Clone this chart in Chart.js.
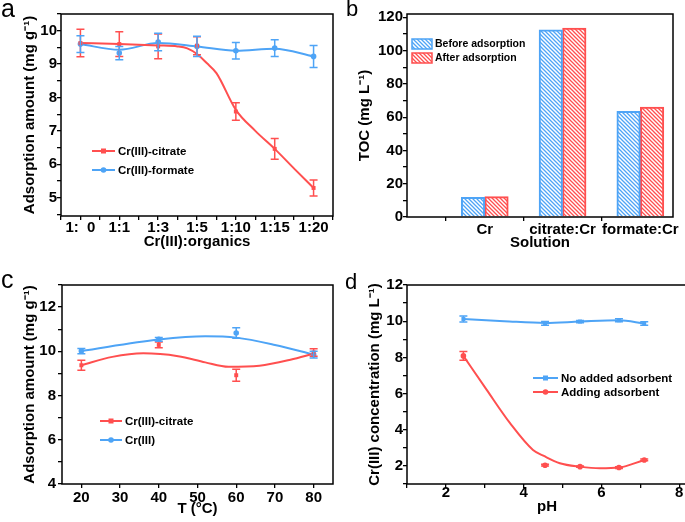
<!DOCTYPE html>
<html>
<head>
<meta charset="utf-8">
<script src="https://cdn.jsdelivr.net/npm/chart.js@4.4.1/dist/chart.umd.min.js"></script>
<style>
  html, body { margin: 0; padding: 0; background: #fff; overflow: hidden; }
  #wrap { position: relative; width: 685px; height: 522px; overflow: hidden; }
  .panel { position: absolute; }
  .tag { position: absolute; font-family: "Liberation Sans", Arial, sans-serif; color: #000; }
</style>
</head>
<body>
<div id="wrap">
  <div class="panel" style="left:0;top:0;width:342px;height:260px"><canvas id="chart-a"></canvas></div>
  <div class="panel" style="left:342px;top:0;width:343px;height:260px"><canvas id="chart-b"></canvas></div>
  <div class="panel" style="left:0;top:260px;width:342px;height:262px"><canvas id="chart-c"></canvas></div>
  <div class="panel" style="left:342px;top:260px;width:350px;height:262px"><canvas id="chart-d"></canvas></div>
  <div class="tag" style="left:1px;top:-4px;font-size:25px;line-height:25px">a</div>
  <div class="tag" style="left:346px;top:-2px;font-size:22px;line-height:22px">b</div>
  <div class="tag" style="left:1px;top:267px;font-size:25px;line-height:25px">c</div>
  <div class="tag" style="left:345px;top:271px;font-size:22px;line-height:22px">d</div>
</div>
<script>
// ---- data ----

// (a) adsorption vs Cr(III):organics ratio
const ratioLabels = ['1:  0', '1:1', '1:3', '1:5', '1:10', '1:15', '1:20'];
const ratioPos = [0, 1, 2, 3, 4, 5, 6];
const citrateA = [9.63, 9.6, 9.53, 9.55, 7.58, 6.46, 5.29];
const citrateErrA = [0.41, 0.37, 0.37, 0.27, 0.26, 0.31, 0.24];
const formateA = [9.6, 9.33, 9.66, 9.53, 9.4, 9.48, 9.23];
const formateErrA = [0.25, 0.2, 0.26, 0.3, 0.25, 0.25, 0.33];
// fitted curves as drawn
const citrateFitPosA = [0, 1, 2, 2.5, 2.75, 3, 3.25, 3.5, 4, 4.5, 5, 5.5, 6];
const citrateFitA = [9.63, 9.6, 9.56, 9.53, 9.47, 9.3, 9.03, 8.73, 7.63, 7.0, 6.46, 5.87, 5.29];
const formateFitPosA = [0, 1, 2, 3, 4, 5, 6];
const formateFitA = [9.6, 9.43, 9.63, 9.53, 9.4, 9.46, 9.23];
const yTicksA = [5, 6, 7, 8, 9, 10];

// (b) TOC
const solutions = ['Cr', 'citrate:Cr', 'formate:Cr'];
const solutionPos = [1, 2, 3];
const tocBefore = [11.8, 112.5, 63.5];
const tocAfter = [12.2, 113.5, 66];
const yTicksB = [0, 20, 40, 60, 80, 100, 120];

// (c) adsorption vs temperature
const temps = [20, 40, 60, 80];
const citrateC = [9.37, 10.29, 8.92, 9.95];
const citrateErrC = [0.23, 0.13, 0.27, 0.17];
const cr3C = [10.01, 10.54, 10.83, 9.85];
const cr3ErrC = [0.12, 0.08, 0.24, 0.15];
const citrateFitTC = [20, 28, 36, 45, 52, 58, 66, 74, 80];
const citrateFitC = [9.37, 9.75, 9.91, 9.78, 9.5, 9.3, 9.35, 9.62, 9.9];
const cr3FitTC = [20, 40, 52, 60, 70, 80];
const cr3FitC = [10.01, 10.53, 10.68, 10.62, 10.29, 9.85];
const xTicksC = [20, 30, 40, 50, 60, 70, 80];
const yTicksC = [4, 6, 8, 10, 12];

// (d) Cr(III) concentration vs pH
const phD = [2.45, 4.55, 5.45, 6.45, 7.1];
const noAdsD = [10.12, 9.88, 9.98, 10.05, 9.87];
const noAdsErrD = [0.17, 0.1, 0.06, 0.08, 0.1];
const addAdsD = [8.08, 2.04, 1.96, 1.91, 2.33];
const addAdsErrD = [0.24, 0.05, 0.04, 0.05, 0.05];
const noFitPhD = [2.45, 3.5, 4.55, 5.45, 6.45, 7.1];
const noFitD = [10.12, 10.0, 9.9, 9.98, 10.05, 9.87];
const addFitPhD = [2.45, 3.05, 3.65, 4.24, 4.52, 4.93, 5.44, 5.96, 6.45, 7.1];
const addFitD = [8.08, 6.2, 4.36, 2.88, 2.55, 2.15, 1.96, 1.87, 1.91, 2.33];
const xTicksD = [2, 4, 6, 8];
const yTicksD = [2, 4, 6, 8, 10, 12];

// ---- styling ----
const RED = '#ff4f4f';
const BLUE = '#4ea4f6';
const FONT = '"Liberation Sans", Arial, sans-serif';

Chart.defaults.font.family = FONT;
Chart.defaults.font.size = 15;
Chart.defaults.font.weight = 'bold';
Chart.defaults.color = '#000';
Chart.defaults.animation = false;
Chart.defaults.plugins.legend.display = false;
Chart.defaults.plugins.tooltip.enabled = false;

const zip = (xs, ys) => xs.map((x, i) => ({ x, y: ys[i] }));

// majors plus half-step minors, inside [min, max]
function tickList(major, min, max) {
  const step = major[1] - major[0];
  const out = [];
  for (let v = major[0] - step; v <= major[major.length - 1] + step + 1e-9; v += step / 2) {
    if (v >= min - 1e-9 && v <= max + 1e-9) out.push(+v.toFixed(4));
  }
  return out;
}

function axis(opts) {
  const { pos, min, max, ticks, labelOf, title, size, pad } = opts;
  const horiz = pos === 'bottom';
  return {
    type: 'linear', position: pos, min, max, offset: false,
    afterBuildTicks: s => { s.ticks = ticks.map(v => ({ value: v })); },
    afterFit: s => { if (horiz) s.height = size; else s.width = size; },
    ticks: {
      autoSkip: false, maxRotation: 0, minRotation: 0, padding: pad,
      font: { size: 15, weight: 'bold' }, color: '#000',
      callback: v => labelOf(v)
    },
    grid: {
      drawOnChartArea: false, drawTicks: true, tickLength: 4, lineWidth: 1.3,
      color: '#000', tickColor: opts.tickColor || '#000', offset: false
    },
    border: { display: false },
    title: { display: true, text: title, font: { size: 15, weight: 'bold' }, color: '#000', padding: 0 }
  };
}

const numLabel = majors => v => majors.some(m => Math.abs(m - v) < 1e-6) ? String(v) : '';

// ---- plugins ----
const errorBars = {
  id: 'errorBars',
  afterDatasetsDraw(chart) {
    const ctx = chart.ctx;
    chart.data.datasets.forEach((ds, i) => {
      if (!ds.errors) return;
      const meta = chart.getDatasetMeta(i);
      const xs = chart.scales[meta.xAxisID], ys = chart.scales[meta.yAxisID];
      ctx.save();
      ctx.strokeStyle = ds.borderColor;
      ctx.lineWidth = 1.5;
      ds.data.forEach((p, j) => {
        const e = ds.errors[j];
        const x = xs.getPixelForValue(p.x);
        const y0 = ys.getPixelForValue(p.y - e), y1 = ys.getPixelForValue(p.y + e);
        ctx.beginPath();
        ctx.moveTo(x, y0); ctx.lineTo(x, y1);
        ctx.moveTo(x - 4, y0); ctx.lineTo(x + 4, y0);
        ctx.moveTo(x - 4, y1); ctx.lineTo(x + 4, y1);
        ctx.stroke();
      });
      ctx.restore();
    });
  }
};

const frame = {
  id: 'frame',
  afterDatasetsDraw(chart) {
    const { ctx, chartArea: a } = chart;
    ctx.save();
    ctx.strokeStyle = '#000';
    ctx.lineWidth = 1.5;
    ctx.strokeRect(a.left, a.top, a.right - a.left, a.bottom - a.top);
    ctx.restore();
  }
};

const keyLegend = {
  id: 'keyLegend',
  afterDraw(chart, args, opts) {
    if (!opts.items) return;
    const ctx = chart.ctx;
    ctx.save();
    ctx.font = `bold ${opts.size}px ${FONT}`;
    ctx.textBaseline = 'middle';
    opts.items.forEach((idx, k) => {
      const ds = chart.data.datasets[idx];
      const y = opts.y + k * opts.gap;
      const x = opts.x, w = opts.w;
      if (opts.box) {
        ctx.fillStyle = ds.backgroundColor;
        ctx.fillRect(x, y - 5, w, 10);
        ctx.strokeStyle = ds.borderColor;
        ctx.lineWidth = 1.5;
        ctx.strokeRect(x, y - 5, w, 10);
      } else {
        ctx.strokeStyle = ds.borderColor;
        ctx.lineWidth = 2;
        ctx.beginPath(); ctx.moveTo(x, y); ctx.lineTo(x + w, y); ctx.stroke();
        ctx.fillStyle = ds.borderColor;
        if (ds.pointStyle === 'rect') ctx.fillRect(x + w / 2 - 2.5, y - 2.5, 5, 5);
        else { ctx.beginPath(); ctx.arc(x + w / 2, y, 2.8, 0, Math.PI * 2); ctx.fill(); }
      }
      ctx.fillStyle = '#000';
      ctx.fillText(ds.label, x + w + 3, y + 0.5);
    });
    ctx.restore();
  }
};

Chart.register(errorBars, frame, keyLegend);

function points(label, xs, ys, errs, color, style) {
  return {
    label, data: zip(xs, ys), errors: errs, showLine: false,
    borderColor: color, backgroundColor: color,
    pointStyle: style, pointRadius: 2.8, pointBorderWidth: 0
  };
}
function fit(xs, ys, color) {
  return {
    label: '', data: zip(xs, ys), showLine: true, pointRadius: 0,
    borderColor: color, borderWidth: 2, cubicInterpolationMode: 'monotone', fill: false
  };
}

function hatch(color) {
  const c = document.createElement('canvas');
  c.width = 4; c.height = 4;
  const g = c.getContext('2d');
  g.fillStyle = '#fff';
  g.fillRect(0, 0, 4, 4);
  g.strokeStyle = color;
  g.lineWidth = 1.3;
  g.beginPath();
  g.moveTo(-1, -1); g.lineTo(5, 5);
  g.moveTo(-1, 3); g.lineTo(1, 5);
  g.moveTo(3, -1); g.lineTo(5, 1);
  g.stroke();
  return g.createPattern(c, 'repeat');
}

// ---- (a) ----
new Chart(document.getElementById('chart-a'), {
  type: 'scatter',
  data: {
    datasets: [
      points('Cr(III)-citrate', ratioPos, citrateA, citrateErrA, RED, 'rect'),
      points('Cr(III)-formate', ratioPos, formateA, formateErrA, BLUE, 'circle'),
      fit(citrateFitPosA, citrateFitA, RED),
      fit(formateFitPosA, formateFitA, BLUE)
    ]
  },
  options: {
    responsive: true, maintainAspectRatio: false,
    layout: { padding: { left: 21, top: 14, right: 9, bottom: 9 } },
    scales: {
      x: axis({ pos: 'bottom', min: -0.5, max: 6.5, ticks: tickList(ratioPos, -0.5, 6.5),
        labelOf: v => Number.isInteger(v) ? ratioLabels[v] : '', title: 'Cr(III):organics', size: 35, pad: -1 }),
      y: axis({ pos: 'left', min: 4.45, max: 10.5, ticks: tickList(yTicksA, 4.45, 10.5),
        labelOf: numLabel(yTicksA), title: 'Adsorption amount (mg g\u207B\u00B9)', size: 40, pad: 0 })
    },
    plugins: { keyLegend: { items: [0, 1], x: 92, y: 151, gap: 19, w: 23, size: 11.5 } }
  }
});

// ---- (b) ----
new Chart(document.getElementById('chart-b'), {
  type: 'bar',
  data: {
    datasets: [
      { label: 'Before adsorption', data: zip(solutionPos, tocBefore),
        backgroundColor: hatch(BLUE), borderColor: BLUE, borderWidth: 2, barThickness: 23.5 },
      { label: 'After adsorption', data: zip(solutionPos, tocAfter),
        backgroundColor: hatch(RED), borderColor: RED, borderWidth: 2, barThickness: 23.5 }
    ]
  },
  options: {
    responsive: true, maintainAspectRatio: false,
    layout: { padding: { left: 14, top: 14, right: 12, bottom: 8 } },
    scales: {
      x: axis({ pos: 'bottom', min: 0, max: 3.42, ticks: [0.5, 1, 1.5, 2, 2.5, 3],
        labelOf: v => Number.isInteger(v) ? solutions[v - 1] : '', title: 'Solution', size: 35, pad: 0,
        tickColor: c => (c.tick && Number.isInteger(c.tick.value)) ? 'rgba(0,0,0,0)' : '#000' }),
      y: axis({ pos: 'left', min: 0, max: 122, ticks: tickList(yTicksB, 0, 122),
        labelOf: numLabel(yTicksB), title: 'TOC (mg L\u207B\u00B9)', size: 51, pad: 0 })
    },
    plugins: { keyLegend: { items: [0, 1], x: 70, y: 44, gap: 14, w: 20, size: 10.5, box: true } }
  }
});

// ---- (c) ----
new Chart(document.getElementById('chart-c'), {
  type: 'scatter',
  data: {
    datasets: [
      points('Cr(III)-citrate', temps, citrateC, citrateErrC, RED, 'rect'),
      points('Cr(III)', temps, cr3C, cr3ErrC, BLUE, 'circle'),
      fit(citrateFitTC, citrateFitC, RED),
      fit(cr3FitTC, cr3FitC, BLUE)
    ]
  },
  options: {
    responsive: true, maintainAspectRatio: false,
    layout: { padding: { left: 21, top: 25, right: 9, bottom: 4 } },
    scales: {
      x: axis({ pos: 'bottom', min: 15, max: 85, ticks: xTicksC,
        labelOf: numLabel(xTicksC), title: 'T (\u00B0C)', size: 34, pad: 1 }),
      y: axis({ pos: 'left', min: 4, max: 13, ticks: tickList(yTicksC, 4, 13),
        labelOf: numLabel(yTicksC), title: 'Adsorption amount (mg g\u207B\u00B9)', size: 41, pad: 2 })
    },
    plugins: { keyLegend: { items: [0, 1], x: 100, y: 161, gap: 19, w: 22, size: 11.5 } }
  }
});

// ---- (d) ----
new Chart(document.getElementById('chart-d'), {
  type: 'scatter',
  data: {
    datasets: [
      points('No added adsorbent', phD, noAdsD, noAdsErrD, BLUE, 'rect'),
      points('Adding adsorbent', phD, addAdsD, addAdsErrD, RED, 'circle'),
      fit(noFitPhD, noFitD, BLUE),
      fit(addFitPhD, addFitD, RED)
    ]
  },
  options: {
    responsive: true, maintainAspectRatio: false,
    layout: { padding: { left: 24, top: 25, right: 5, bottom: 6 } },
    scales: {
      x: axis({ pos: 'bottom', min: 1, max: 8.2, ticks: tickList(xTicksD, 1, 8.2),
        labelOf: numLabel(xTicksD), title: 'pH', size: 32, pad: -4 }),
      y: axis({ pos: 'left', min: 1, max: 12, ticks: tickList(yTicksD, 1, 12),
        labelOf: numLabel(yTicksD), title: 'Cr(III) concentration (mg L\u207B\u00B9)', size: 41, pad: 0 })
    },
    plugins: { keyLegend: { items: [0, 1], x: 191, y: 118, gap: 14, w: 25, size: 11.5 } }
  }
});
</script>
</body>
</html>
